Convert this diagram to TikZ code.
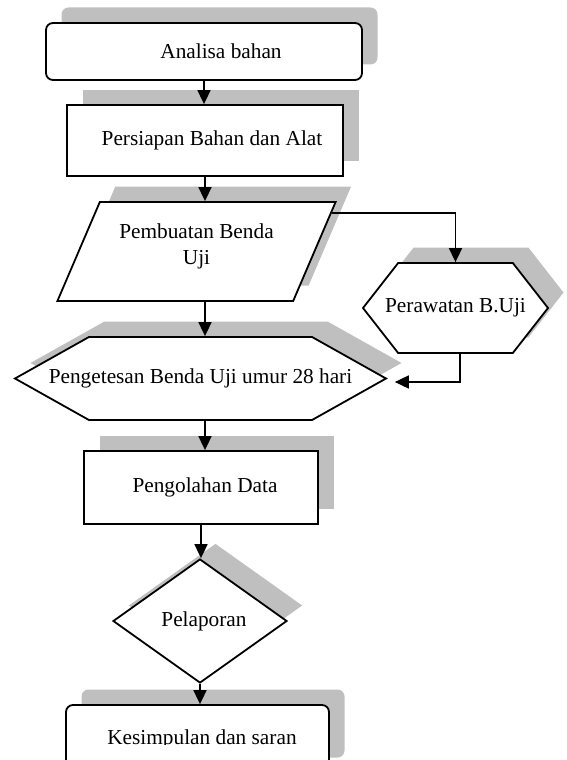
\documentclass[tikz,border=0pt]{standalone}
\usepackage{fontspec}
\setmainfont{Liberation Serif}
\usetikzlibrary{arrows.meta,calc,shadows,shapes.geometric,shapes.symbols}

\tikzset{
  boxshadow/.style={drop shadow={shadow xshift=15.5pt,shadow yshift=15.5pt,opacity=1,fill=black!25}},
  flowbox/.style={draw, fill=white, line width=1.8pt, boxshadow},
  flow/.style={->, line width=1.7pt},
}

\begin{document}
\begin{tikzpicture}[x=1pt, y=-1pt, >={Triangle[length=14pt,width=13pt]},
    every node/.style={font=\fontsize{21.3}{26}\selectfont}]
  \useasboundingbox (0,0) rectangle (567,760);
  % steps
  \node[flowbox, rounded corners=7pt, minimum width=316pt, minimum height=57pt] (analisa) at (204,51.5) {\hspace*{34pt}Analisa bahan};
  \node[flowbox, minimum width=276pt, minimum height=71pt] (persiapan) at (205,140.5) {\hspace*{14pt}Persiapan Bahan dan Alat};
  \node[flowbox, trapezium, trapezium left angle=60.5, trapezium right angle=119.5, trapezium stretches=true,
        minimum width=279pt, minimum height=99pt, align=center, text depth=15pt] (buat) at (196.5,251.5) {Pembuatan Benda\\Uji};
  \node[flowbox, signal, signal to=east and west, signal pointer angle=104, inner xsep=-15pt,
        minimum width=185pt, minimum height=90pt] (rawat) at (455.5,308) {Perawatan B.Uji};
  \node[flowbox, signal, signal to=east and west, signal pointer angle=58.6, inner xsep=-45pt,
        minimum width=371pt, minimum height=83pt] (uji) at (200.5,378.5) {Pengetesan Benda Uji umur 28 hari};
  \node[flowbox, minimum width=234pt, minimum height=73pt] (olah) at (201,487.5) {\hspace*{8pt}Pengolahan Data};
  \node[flowbox, diamond, minimum width=174pt, minimum height=124pt, inner sep=0pt] (lapor) at (200,621) {\hspace*{8pt}Pelaporan};
  \node[flowbox, rounded corners=7pt, minimum width=263pt, minimum height=68pt] (simpul) at (197.5,739) {};
  \begin{scope}
    \clip (0,700) rectangle (567,744);
    \node (simpultext) at ([xshift=4.5pt]simpul.center) {Kesimpulan dan saran};
  \end{scope}
  % arrows
  \draw[flow] (analisa.south) -- (analisa.south |- persiapan.north);
  \draw[flow] (persiapan.south) -- (persiapan.south |- buat.north);
  \coordinate (split) at ($(buat.top right corner)!0.12!(buat.bottom right corner)$);
  \draw[flow] (split) -| (rawat.north);
  \draw[flow] (buat.south -| persiapan.south) -- (uji.north -| persiapan.south);
  \draw[flow] ([xshift=4.5pt]rawat.south) |- ([xshift=7pt,yshift=-3.5pt]uji.east);
  \draw[flow] (uji.south -| persiapan.south) -- (olah.north -| persiapan.south);
  \draw[flow] (olah.south) -- (olah.south |- lapor.north);
  \draw[flow] (lapor.south) -- (lapor.south |- simpul.north);
\end{tikzpicture}
\end{document}
